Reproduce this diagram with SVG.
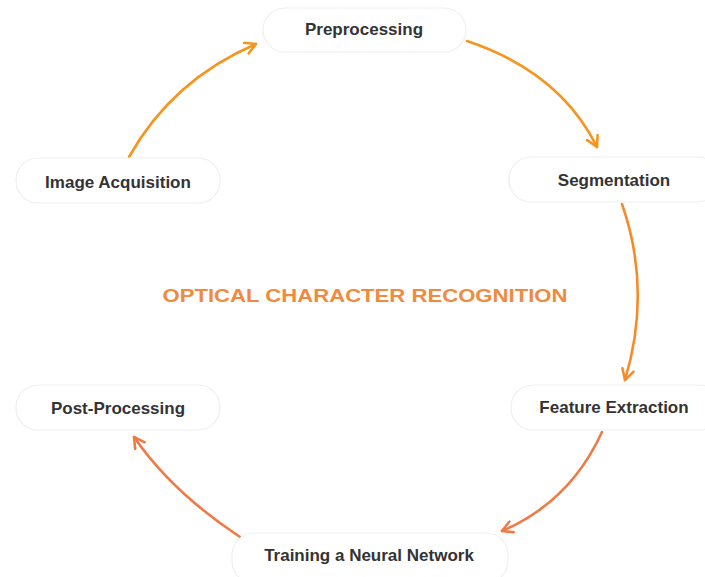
<svg xmlns="http://www.w3.org/2000/svg" width="705" height="577" viewBox="0 0 705 577">
<style>
.pill{fill:#ffffff;stroke:#efefef;stroke-width:1.2}
.lbl{font-family:"Liberation Sans",Arial,sans-serif;font-size:17px;font-weight:bold;fill:#333333;text-anchor:middle;dominant-baseline:central}
.title{font-family:"Liberation Sans",Arial,sans-serif;font-size:19px;font-weight:bold;fill:#F28A3E;text-anchor:middle;dominant-baseline:central}
.c{fill:none;stroke-width:2.6;stroke-linecap:round}
.a1{stroke:#F7941D}
.a2{stroke:#F58B2A}
.a3{stroke:#EE7B45}
</style>
<defs>
<marker id="m1" viewBox="0 0 12 12" refX="10" refY="6" markerWidth="14" markerHeight="14" markerUnits="userSpaceOnUse" orient="auto"><path d="M1,1 L10,6 L1,11" fill="none" stroke="#F7941D" stroke-width="2.2" stroke-linecap="round" stroke-linejoin="round"/></marker>
<marker id="m2" viewBox="0 0 12 12" refX="10" refY="6" markerWidth="14" markerHeight="14" markerUnits="userSpaceOnUse" orient="auto"><path d="M1,1 L10,6 L1,11" fill="none" stroke="#F58B2A" stroke-width="2.2" stroke-linecap="round" stroke-linejoin="round"/></marker>
<marker id="m3" viewBox="0 0 12 12" refX="10" refY="6" markerWidth="14" markerHeight="14" markerUnits="userSpaceOnUse" orient="auto"><path d="M1,1 L10,6 L1,11" fill="none" stroke="#EE7B45" stroke-width="2.2" stroke-linecap="round" stroke-linejoin="round"/></marker>
</defs>
<rect width="705" height="577" fill="#ffffff"/>
<g id="connectors">
<path class="c a1" d="M129,157 Q172,80 256,44" marker-end="url(#m1)"/>
<path class="c a1" d="M467,41 Q560,72 597,147" marker-end="url(#m1)"/>
<path class="c a2" d="M622,204 Q652,290 625,380" marker-end="url(#m2)"/>
<path class="c a3" d="M602,432 Q570,502 502,531" marker-end="url(#m3)"/>
<path class="c a3" d="M240,537 Q172,492 134,437" marker-end="url(#m3)"/>
</g>
<g id="preprocessing"><rect class="pill" x="263" y="8" width="203" height="44" rx="22"/><text class="lbl" x="364" y="29">Preprocessing</text></g>
<g id="image-acquisition"><rect class="pill" x="16" y="158" width="204" height="45" rx="22"/><text class="lbl" x="118" y="182">Image Acquisition</text></g>
<g id="segmentation"><rect class="pill" x="509" y="157" width="210" height="45" rx="22"/><text class="lbl" x="614" y="180">Segmentation</text></g>
<g id="feature-extraction"><rect class="pill" x="511" y="385" width="210" height="45" rx="22"/><text class="lbl" x="614" y="407">Feature Extraction</text></g>
<g id="post-processing"><rect class="pill" x="16" y="385" width="204" height="45" rx="22"/><text class="lbl" x="118" y="408">Post-Processing</text></g>
<g id="training"><rect class="pill" x="232" y="533" width="276" height="50" rx="22"/><text class="lbl" x="369" y="555">Training a Neural Network</text></g>
<g id="title"><text class="title" x="365" y="295" textLength="405" lengthAdjust="spacingAndGlyphs">OPTICAL CHARACTER RECOGNITION</text></g>
</svg>
